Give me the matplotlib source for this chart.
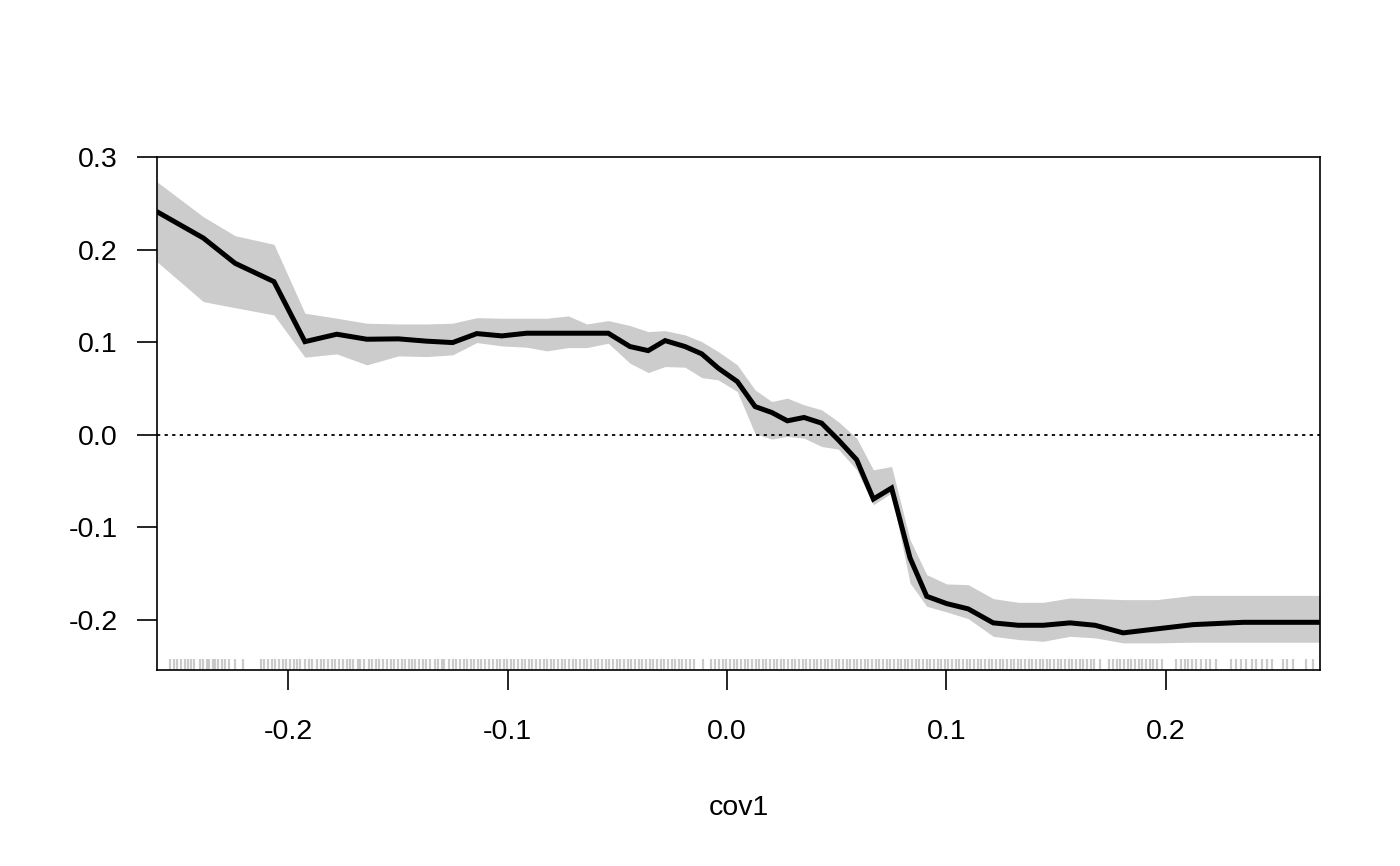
import matplotlib
matplotlib.use("Agg")
import matplotlib.pyplot as plt
import matplotlib.transforms as mtransforms

plt.rcParams['font.family'] = ['Liberation Sans', 'DejaVu Sans']

# ---- data ----
cov1 = [-0.2597, -0.2386, -0.2241, -0.2064, -0.1923, -0.1778, -0.1641, -0.1497,
        -0.1368, -0.1250, -0.1140, -0.1026, -0.0913, -0.0821, -0.0723, -0.0639,
        -0.0541, -0.0442, -0.0359, -0.0282, -0.0191, -0.0115, -0.0040, 0.0047,
        0.0128, 0.0204, 0.0275, 0.0351, 0.0431, 0.0507, 0.0591, 0.0667,
        0.0750, 0.0834, 0.0910, 0.1001, 0.1099, 0.1213, 0.1327, 0.1441,
        0.1563, 0.1677, 0.1805, 0.1958, 0.2124, 0.2352, 0.2519, 0.2702]

effect = [0.2409, 0.2125, 0.1852, 0.1654, 0.1006, 0.1086, 0.1032, 0.1036,
          0.1011, 0.0996, 0.1093, 0.1068, 0.1097, 0.1097, 0.1097, 0.1097,
          0.1097, 0.0953, 0.0909, 0.1017, 0.0953, 0.0874, 0.0720, 0.0575,
          0.0305, 0.0241, 0.0151, 0.0187, 0.0126, -0.0054, -0.0270, -0.0694,
          -0.0575, -0.1330, -0.1744, -0.1823, -0.1880, -0.2031, -0.2057, -0.2057,
          -0.2031, -0.2057, -0.2139, -0.2096, -0.2050, -0.2025, -0.2025, -0.2025]

upper = [0.2732, 0.2355, 0.2150, 0.2057, 0.1313, 0.1259, 0.1205, 0.1197,
         0.1197, 0.1205, 0.1265, 0.1259, 0.1259, 0.1259, 0.1284, 0.1197,
         0.1233, 0.1180, 0.1114, 0.1125, 0.1079, 0.1006, 0.0899, 0.0755,
         0.0485, 0.0359, 0.0396, 0.0324, 0.0270, 0.0143, -0.0036, -0.0378,
         -0.0342, -0.1133, -0.1510, -0.1611, -0.1618, -0.1769, -0.1809, -0.1809,
         -0.1762, -0.1769, -0.1780, -0.1780, -0.1734, -0.1734, -0.1734, -0.1734]

lower = [0.1869, 0.1438, 0.1373, 0.1294, 0.0838, 0.0874, 0.0755, 0.0852,
         0.0845, 0.0863, 0.0996, 0.0960, 0.0946, 0.0906, 0.0942, 0.0942,
         0.0989, 0.0773, 0.0672, 0.0737, 0.0730, 0.0618, 0.0593, 0.0467,
         0.0011, -0.0046, -0.0018, -0.0036, -0.0126, -0.0154, -0.0378, -0.0755,
         -0.0629, -0.1600, -0.1852, -0.1913, -0.1985, -0.2176, -0.2211, -0.2230,
         -0.2176, -0.2193, -0.2247, -0.2247, -0.2240, -0.2240, -0.2240, -0.2240]

rug = [-0.2538, -0.2521, -0.2505, -0.2489, -0.2470, -0.2458, -0.2441, -0.2430,
       -0.2402, -0.2388, -0.2371, -0.2360, -0.2342, -0.2331, -0.2318, -0.2299,
       -0.2286, -0.2268, -0.2241, -0.2204, -0.2125, -0.2109, -0.2092, -0.2071,
       -0.2058, -0.2040, -0.2022, -0.2011, -0.1990, -0.1972, -0.1961, -0.1945,
       -0.1921, -0.1905, -0.1889, -0.1870, -0.1852, -0.1838, -0.1820, -0.1801,
       -0.1788, -0.1766, -0.1750, -0.1733, -0.1718, -0.1702, -0.1683, -0.1670,
       -0.1652, -0.1631, -0.1618, -0.1600, -0.1584, -0.1566, -0.1551, -0.1530,
       -0.1519, -0.1500, -0.1482, -0.1468, -0.1449, -0.1433, -0.1420, -0.1401,
       -0.1385, -0.1370, -0.1352, -0.1331, -0.1318, -0.1300, -0.1288, -0.1266,
       -0.1250, -0.1236, -0.1218, -0.1200, -0.1185, -0.1167, -0.1152, -0.1133,
       -0.1120, -0.1101, -0.1085, -0.1068, -0.1050, -0.1036, -0.1017, -0.1001,
       -0.0986, -0.0970, -0.0951, -0.0936, -0.0918, -0.0900, -0.0887, -0.0868,
       -0.0852, -0.0835, -0.0821, -0.0800, -0.0786, -0.0770, -0.0751, -0.0736,
       -0.0718, -0.0701, -0.0688, -0.0669, -0.0652, -0.0638, -0.0620, -0.0603,
       -0.0587, -0.0568, -0.0553, -0.0536, -0.0520, -0.0502, -0.0488, -0.0470,
       -0.0452, -0.0437, -0.0419, -0.0403, -0.0386, -0.0370, -0.0351, -0.0337,
       -0.0320, -0.0302, -0.0288, -0.0270, -0.0252, -0.0237, -0.0220, -0.0203,
       -0.0188, -0.0170, -0.0152, -0.0111, -0.0071, -0.0055, -0.0038, -0.0020,
       -0.0004, 0.0012, 0.0030, 0.0046, 0.0063, 0.0080, 0.0096, 0.0112,
       0.0130, 0.0146, 0.0163, 0.0179, 0.0196, 0.0213, 0.0229, 0.0246,
       0.0262, 0.0279, 0.0296, 0.0312, 0.0329, 0.0345, 0.0362, 0.0379,
       0.0395, 0.0412, 0.0428, 0.0445, 0.0462, 0.0478, 0.0495, 0.0511,
       0.0528, 0.0545, 0.0561, 0.0578, 0.0594, 0.0611, 0.0628, 0.0644,
       0.0661, 0.0677, 0.0694, 0.0711, 0.0727, 0.0744, 0.0760, 0.0777,
       0.0794, 0.0810, 0.0827, 0.0843, 0.0860, 0.0877, 0.0893, 0.0910,
       0.0926, 0.0943, 0.0960, 0.0976, 0.0993, 0.1009, 0.1026, 0.1043,
       0.1059, 0.1076, 0.1092, 0.1109, 0.1126, 0.1142, 0.1159, 0.1175,
       0.1192, 0.1209, 0.1225, 0.1242, 0.1258, 0.1275, 0.1292, 0.1308,
       0.1325, 0.1341, 0.1358, 0.1375, 0.1391, 0.1408, 0.1424, 0.1441,
       0.1458, 0.1474, 0.1491, 0.1507, 0.1524, 0.1541, 0.1557, 0.1574,
       0.1590, 0.1607, 0.1624, 0.1640, 0.1657, 0.1673, 0.1700, 0.1742,
       0.1760, 0.1777, 0.1793, 0.1810, 0.1826, 0.1843, 0.1860, 0.1876,
       0.1893, 0.1909, 0.1926, 0.1943, 0.1959, 0.1980, 0.2045, 0.2068,
       0.2085, 0.2102, 0.2120, 0.2138, 0.2160, 0.2181, 0.2203, 0.2230,
       0.2296, 0.2321, 0.2344, 0.2366, 0.2390, 0.2412, 0.2438, 0.2462,
       0.2482, 0.2535, 0.2552, 0.2578, 0.2640, 0.2672]

xticks = [-0.2, -0.1, 0.0, 0.1, 0.2]
xticklabels = ['-0.2', '-0.1', '0.0', '0.1', '0.2']
yticks = [-0.2, -0.1, 0.0, 0.1, 0.2, 0.3]
yticklabels = ['-0.2', '-0.1', '0.0', '0.1', '0.2', '0.3']
xlabel = 'cov1'

# ---- figure ----
fig = plt.figure(figsize=(14, 8.66), dpi=100)
ax = fig.add_axes([157/1400, 1 - 670/866, (1320-157)/1400, (670-157)/866])

ax.fill_between(cov1, lower, upper, color='#CCCCCC', linewidth=0, zorder=1)
ax.axhline(0.0, color='black', lw=1.3, linestyle=(0, (1.8, 2.4)), zorder=2)
ax.plot(cov1, effect, color='black', lw=3.6, solid_joinstyle='miter', zorder=3)

trans = mtransforms.blended_transform_factory(ax.transData, ax.transAxes)
ax.vlines(rug, 0.0, 0.0214, transform=trans, color='#8a8a8a', alpha=0.45,
          lw=1.6, zorder=2)

ax.set_xlim(-0.2597, 0.2702)
ax.set_ylim(-0.254, 0.300)

ax.set_xticks(xticks)
ax.set_xticklabels(xticklabels)
ax.set_yticks(yticks)
ax.set_yticklabels(yticklabels)

for s in ax.spines.values():
    s.set_linewidth(1.2)
    s.set_color('black')

ax.tick_params(axis='both', length=14.4, width=1.2, color='black',
               labelsize=20.5, direction='out')
ax.tick_params(axis='x', pad=21)
ax.tick_params(axis='y', pad=14)

ax.set_xlabel(xlabel, fontsize=20.5, labelpad=36)

fig.savefig('out.png', dpi=100, facecolor='white')
